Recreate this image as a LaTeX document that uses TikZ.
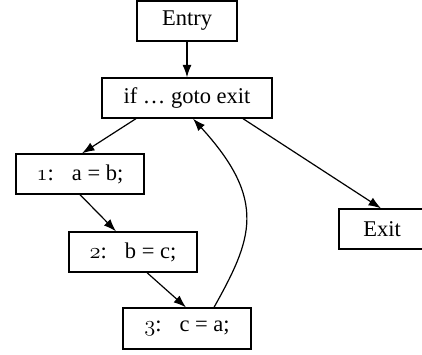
\documentclass[tikz,border=0pt]{standalone}
\usepackage{fix-cm}
\usepackage{fontspec}
\setmainfont{Liberation Serif}
\usetikzlibrary{arrows.meta,calc}
\newcommand{\osn}[1]{$\mathnormal{#1}$}
\begin{document}
\begin{tikzpicture}[x=1pt,y=-1pt,
  blk/.style={draw,line width=1.3pt,minimum height=40pt,inner sep=0pt,font=\fontsize{22.5}{26}\selectfont},
  arr/.style={line width=1.2pt,-{Latex[length=12.5pt,width=9pt]}}]
\clip (0,0) rectangle (422,354);
\useasboundingbox (0,0) rectangle (422,354);
\node[blk,minimum width=100pt] (entry) at (187,21) {Entry};
\node[blk,minimum width=170pt] (nif) at (187,98) {if … goto exit};
\node[blk,minimum width=128pt] (n1) at (80,174) {\osn{1}:\hspace{0.8em}a = b;};
\node[blk,minimum width=128pt] (n2) at (133,252) {\osn{2}:\hspace{0.8em}b = c;};
\node[blk,minimum width=128pt,minimum height=41pt] (n3) at (187,328.5) {\osn{3}:\hspace{0.8em}c = a;};
\node[blk,minimum width=86pt] (exit) at (382,229) {Exit};
\draw[arr] (entry.south) -- (nif.north);
\draw[arr] ($(nif.south)+(-51,0)$) -- ($(n1.north)+(2,0)$);
\draw[arr] (n1.south) -- ($(n2.north)+(-17,0)$);
\draw[arr] ($(n2.south)+(14,0)$) -- ($(n3.north)+(-1,0)$);
\draw[arr] ($(nif.south)+(56,0)$) -- ($(exit.north)+(-1,0)$);
\draw[arr] ($(n3.north)+(27,0)$) .. controls +(38,-68) and +(75,82) .. ($(nif.south)+(6,0)$);
\end{tikzpicture}
\end{document}
